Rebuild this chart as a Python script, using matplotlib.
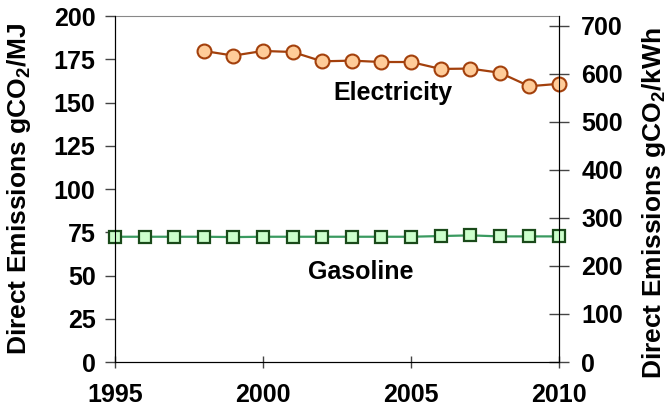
import matplotlib
matplotlib.use("Agg")
import matplotlib.pyplot as plt

plt.rcParams['font.family'] = ['Liberation Sans', 'DejaVu Sans']
plt.rcParams['font.weight'] = 'bold'
plt.rcParams['mathtext.fontset'] = 'custom'
plt.rcParams['mathtext.rm'] = 'Liberation Sans:bold'

# data (left axis, gCO2/MJ)
elec_years = [1998, 1999, 2000, 2001, 2002, 2003, 2004, 2005, 2006, 2007, 2008, 2009, 2010]
elec_vals = [179.8, 177.1, 179.8, 179.2, 173.8, 174.2, 173.4, 173.4, 169.4, 169.6, 167.2, 159.4, 160.8]
gas_years = list(range(1995, 2011))
gas_vals = [72.4, 72.4, 72.4, 72.4, 72.2, 72.4, 72.4, 72.4, 72.4, 72.4, 72.4, 72.8, 73.2, 72.6, 72.6, 72.6]
xticks = [1995, 2000, 2005, 2010]
left_ticks = [0, 25, 50, 75, 100, 125, 150, 175, 200]
right_ticks = [0, 100, 200, 300, 400, 500, 600, 700]

fs = 18
lab_fs = 19
fig = plt.figure(figsize=(6.72, 4.15), dpi=100)
ax = fig.add_axes([115 / 672, 1 - 362 / 415, (559 - 115) / 672, (362 - 16) / 415])

ax.plot(gas_years, gas_vals, color='#3a9a60', lw=1.6, marker='s', ms=8.5,
        mfc='#ccffcc', mec='#1a4a1a', mew=1.6, zorder=3, clip_on=False)
ax.plot(elec_years, elec_vals, color='#a3400c', lw=1.6, marker='o', ms=10,
        mfc='#ffcc99', mec='#a3400c', mew=1.5, zorder=3, clip_on=False)

ax.set_xlim(1995, 2010)
ax.set_ylim(0, 200)
ax.set_xticks(xticks)
ax.set_yticks(left_ticks)
ax.tick_params(axis='both', labelsize=fs, width=1, color='#444444')
ax.tick_params(axis='y', direction='out', length=7, pad=7)
ax.tick_params(axis='x', direction='inout', length=8, pad=11)
for lab in ax.get_xticklabels() + ax.get_yticklabels():
    lab.set_fontweight('bold')
ax.spines['top'].set_color('#888888')
ax.spines['left'].set_color('black')
ax.spines['bottom'].set_color('black')
ax.spines['right'].set_color('black')
ax.set_ylabel(r'Direct Emissions gCO$\mathrm{_2}$/MJ', fontsize=lab_fs, fontweight='bold')
ax.yaxis.set_label_coords(-82 / 444, 0.5)

ax2 = ax.twinx()
ax2.set_ylim(0, 720)
ax2.set_yticks(right_ticks)
ax2.tick_params(axis='y', direction='inout', length=14, labelsize=fs, width=1, color='#444444', pad=9)
for lab in ax2.get_yticklabels():
    lab.set_fontweight('bold')
ax2.spines['top'].set_visible(False)
ax2.set_ylabel(r'Direct Emissions gCO$\mathrm{_2}$/kWh', fontsize=lab_fs, fontweight='bold',
               rotation=90)
ax2.yaxis.set_label_coords(1 + 81 / 444, 0.46)

ax.text(2004.4, 155.5, 'Electricity', fontsize=fs, fontweight='bold', ha='center', va='center')
ax.text(2003.3, 52, 'Gasoline', fontsize=fs, fontweight='bold', ha='center', va='center')

fig.savefig('out.png', dpi=100)
